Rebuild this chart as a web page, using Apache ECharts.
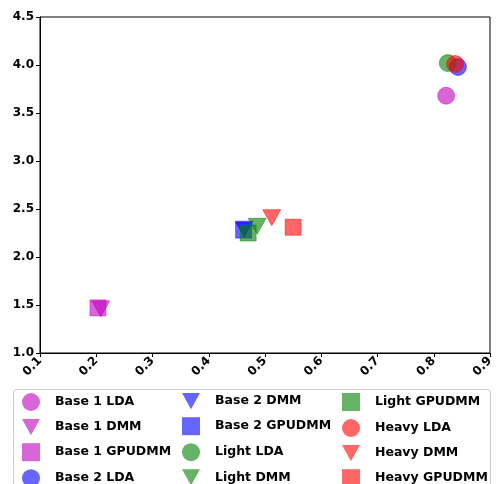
<!DOCTYPE html>
<html><head><meta charset="utf-8">
<script src="https://cdn.jsdelivr.net/npm/echarts@6/dist/echarts.min.js"></script>
<style>html,body{margin:0;padding:0;background:#fff}#c{width:499px;height:484px}</style>
</head><body><div id="c"></div>
<script>
const seriesNames = ['Base 1 LDA','Base 1 DMM','Base 1 GPUDMM','Base 2 LDA','Base 2 DMM','Base 2 GPUDMM','Light LDA','Light DMM','Light GPUDMM','Heavy LDA','Heavy DMM','Heavy GPUDMM'];
const xValues = [0.822, 0.208, 0.203, 0.843, 0.463, 0.462, 0.825, 0.486, 0.470, 0.838, 0.512, 0.550];
const yValues = [3.68, 1.46, 1.47, 3.98, 2.29, 2.28, 4.02, 2.32, 2.25, 4.01, 2.41, 2.31];
const groupColors = {'Base 1':'rgba(191,0,191,0.6)','Base 2':'rgba(0,0,255,0.6)','Light':'rgba(0,128,0,0.6)','Heavy':'rgba(255,0,0,0.6)'};
const xTicks = [0.1,0.2,0.3,0.4,0.5,0.6,0.7,0.8,0.9];
const yTicks = [1.0,1.5,2.0,2.5,3.0,3.5,4.0,4.5];

const triDown = 'path://M0,0 L10,0 L5,9 Z';
function shapeOf(name){
  if (name.endsWith('GPUDMM')) return 'rect';
  if (name.endsWith('DMM')) return triDown;
  return 'circle';
}
function colorOf(name){
  for (const k in groupColors) if (name.startsWith(k)) return groupColors[k];
}
const font = 'DejaVu Sans';
const series = seriesNames.map((n,i)=>({
  name:n, type:'scatter',
  symbol: shapeOf(n),
  symbolSize: shapeOf(n)==='circle' ? 17 : (shapeOf(n)==='rect' ? 16 : [18,16]),
  itemStyle:{color:colorOf(n), opacity:1, borderColor:colorOf(n), borderWidth:0.8},
  data:[[xValues[i], yValues[i]]]
}));
function legendCol(names, left){
  return {
    orient:'vertical', left:left, top:388, height:200, itemGap:8, itemWidth:18, itemHeight:18,
    itemStyle:{borderWidth:0},
    textStyle:{fontFamily:font, fontWeight:'bold', fontSize:12.5, color:'#000', padding:[0,0,0,10]},
    selectedMode:false,
    data:names.map(n=>({name:n, icon: shapeOf(n)}))
  };
}
const chart = echarts.init(document.getElementById('c'));
chart.setOption({
  animation:false,
  grid:{left:40, right:9, top:17, bottom:131, show:true, borderColor:'#000', borderWidth:1},
  xAxis:{type:'value', min:0.1, max:0.9, interval:0.1,
    axisLine:{show:true, lineStyle:{color:'#000'}}, axisTick:{show:true, length:4, lineStyle:{color:'#000'}},
    splitLine:{show:false},
    axisLabel:{rotate:45, fontFamily:font, fontWeight:'bold', fontSize:12, color:'#000', margin:6,
      formatter:v=>v.toFixed(1)}},
  yAxis:{type:'value', min:1.0, max:4.5, interval:0.5,
    axisLine:{show:true, lineStyle:{color:'#000'}}, axisTick:{show:true, length:4, lineStyle:{color:'#000'}},
    splitLine:{show:false},
    axisLabel:{fontFamily:font, fontWeight:'bold', fontSize:12, color:'#000', margin:6,
      formatter:v=>v.toFixed(1)}},
  graphic:[{type:'rect', shape:{x:13.5, y:389.5, width:477, height:110, r:3},
    style:{fill:'#fff', stroke:'#ccc', lineWidth:1}, z:-1}],
  legend:[legendCol(seriesNames.slice(0,4), 17), legendCol(seriesNames.slice(4,8), 177), legendCol(seriesNames.slice(8,12), 337)],
  series:series
});
</script></body></html>
